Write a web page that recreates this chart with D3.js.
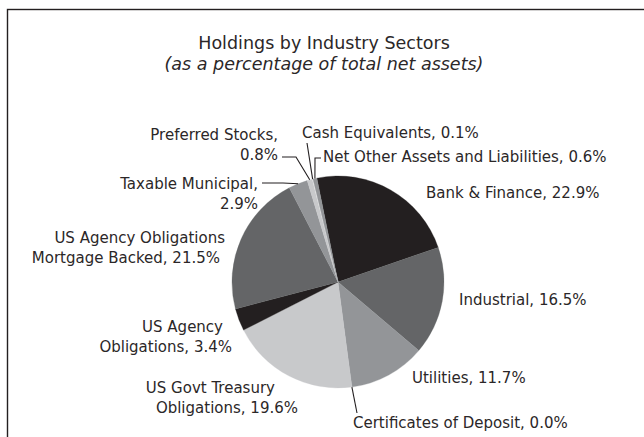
<!DOCTYPE html>
<html>
<head>
<meta charset="utf-8">
<script src="https://cdn.jsdelivr.net/npm/d3@7"></script>
<style>
  html, body { margin: 0; padding: 0; background: #ffffff; }
  svg { display: block; }
  text { font-family: "DejaVu Sans", sans-serif; fill: #2b2728; }
</style>
</head>
<body>
<svg id="chart" width="644" height="437"></svg>
<script>
// Sector breakdown, clockwise from the Bank & Finance slice
const sectors = [
  "Bank & Finance",
  "Industrial",
  "Utilities",
  "Certificates of Deposit",
  "US Govt Treasury\nObligations",
  "US Agency\nObligations",
  "US Agency Obligations\nMortgage Backed",
  "Taxable Municipal",
  "Preferred Stocks",
  "Cash Equivalents",
  "Net Other Assets and Liabilities"
];
const weights = [22.9, 16.5, 11.7, 0.0, 19.6, 3.4, 21.5, 2.9, 0.8, 0.1, 0.6];
const shades = ["#231f20", "#646567", "#939598", "#939598", "#c8c9cb", "#231f20",
                "#646567", "#939598", "#c8c9cb", "#ebebec", "#939598"];

const chartTitle = "Holdings by Industry Sectors";
const chartSubtitle = "(as a percentage of total net assets)";

// Label placement: first baseline, anchor, per-line x, optional leader line bends
const labelLayout = {
  "Bank & Finance":                  { anchor: "start", x: [426], y: 198 },
  "Industrial":                      { anchor: "start", x: [459], y: 305 },
  "Utilities":                       { anchor: "start", x: [412], y: 383 },
  "Certificates of Deposit":         { anchor: "start", x: [353], y: 428, leader: [[357, 413]] },
  "US Govt Treasury\nObligations":   { anchor: "end", x: [275, 298], y: 393 },
  "US Agency\nObligations":          { anchor: "end", x: [223, 232], y: 332 },
  "US Agency Obligations\nMortgage Backed": { anchor: "end", x: [225, 220], y: 243 },
  "Taxable Municipal":               { anchor: "end", x: [258, 258], y: 189, wrap: true, leader: [[283, 183], [262, 183]] },
  "Preferred Stocks":                { anchor: "end", x: [278, 278], y: 140, wrap: true, leader: [[296, 157], [282, 157]] },
  "Cash Equivalents":                { anchor: "start", x: [302], y: 138, leader: [[307, 143]] },
  "Net Other Assets and Liabilities":{ anchor: "start", x: [323], y: 162, leader: [[315, 158], [321, 158]] }
};

const W = 644, H = 437;
const cx = 338, cy = 282, radius = 106;
const lineGap = 19.5;
const startAngle = -11.5 * Math.PI / 180;

const svg = d3.select("#chart");

// Outer frame (runs off the right and bottom edges)
svg.append("rect")
  .attr("x", 7.5).attr("y", 9.5)
  .attr("width", W + 20).attr("height", H + 20)
  .attr("fill", "none")
  .attr("stroke", "#231f20")
  .attr("stroke-width", 1.4);

// Titles
svg.append("text")
  .attr("x", 324).attr("y", 49)
  .attr("text-anchor", "middle")
  .style("font-size", "17.5px")
  .text(chartTitle);
svg.append("text")
  .attr("x", 324).attr("y", 70)
  .attr("text-anchor", "middle")
  .style("font-size", "17.5px")
  .style("font-style", "italic")
  .text(chartSubtitle);

const data = sectors.map((name, i) => ({ name, value: weights[i], color: shades[i] }));

const pie = d3.pie()
  .sort(null)
  .value(d => d.value)
  .startAngle(startAngle)
  .endAngle(startAngle + 2 * Math.PI);

const arcs = pie(data);
const arc = d3.arc().innerRadius(0).outerRadius(radius);

const g = svg.append("g").attr("transform", `translate(${cx},${cy})`);
g.selectAll("path.slice")
  .data(arcs.filter(a => a.data.value > 0))
  .join("path")
  .attr("class", "slice")
  .attr("d", arc)
  .attr("fill", d => d.data.color)
  .attr("stroke", d => d.data.color)
  .attr("stroke-width", 0.3);

// Point on the rim at the middle of a slice
function rimPoint(a) {
  const ang = (a.startAngle + a.endAngle) / 2;
  return [cx + radius * Math.sin(ang), cy - radius * Math.cos(ang)];
}

// Leader lines
arcs.forEach(a => {
  const lay = labelLayout[a.data.name];
  if (!lay || !lay.leader) return;
  const pts = [rimPoint(a), ...lay.leader];
  svg.append("path")
    .attr("d", d3.line()(pts))
    .attr("fill", "none")
    .attr("stroke", "#231f20")
    .attr("stroke-width", 1.1);
});

// Labels
arcs.forEach(a => {
  const lay = labelLayout[a.data.name];
  let label = `${a.data.name}, ${a.data.value.toFixed(1)}%`;
  if (lay.wrap) label = label.replace(", ", ",\n");
  const lines = label.split("\n");
  const t = svg.append("text")
    .attr("text-anchor", lay.anchor)
    .style("font-size", "15px");
  lines.forEach((ln, i) => {
    t.append("tspan")
      .attr("x", lay.x[Math.min(i, lay.x.length - 1)])
      .attr("y", lay.y + i * lineGap)
      .text(ln);
  });
});
</script>
</body>
</html>
